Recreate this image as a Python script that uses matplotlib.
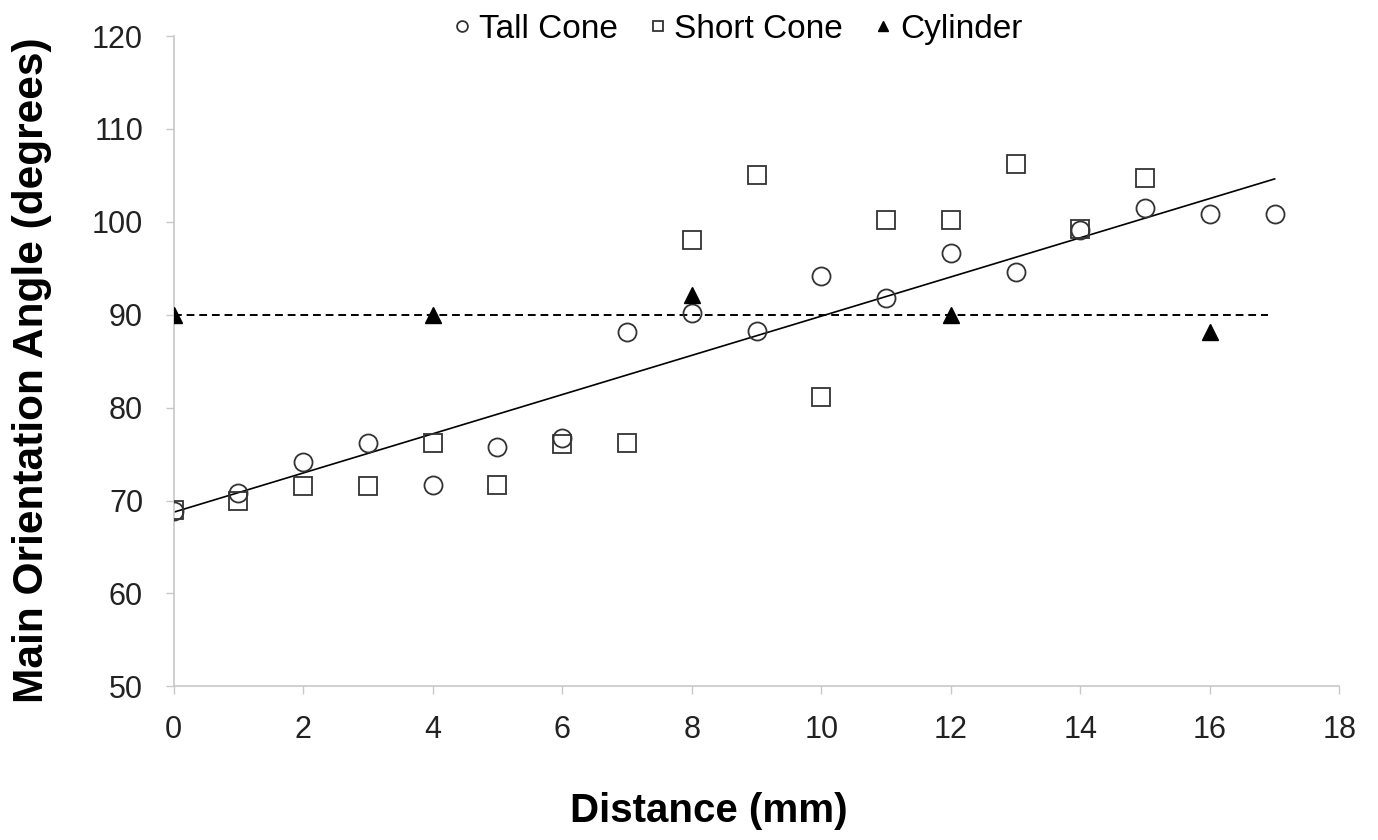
import numpy as np
import matplotlib
matplotlib.use("Agg")
import matplotlib.pyplot as plt

plt.rcParams['font.family'] = ['Liberation Sans', 'DejaVu Sans']

# distance (mm)
tall_x = list(range(0, 18))
tall_y = [68.9, 70.8, 74.1, 76.2, 71.7, 75.8, 76.7, 88.1, 90.2,
          88.3, 94.2, 91.8, 96.6, 94.6, 99.1, 101.5, 100.9, 100.8]

short_x = list(range(0, 16))
short_y = [69.0, 70.0, 71.6, 71.6, 76.2, 71.7, 76.1, 76.2, 98.1,
           105.1, 81.1, 100.2, 100.2, 106.2, 99.2, 104.7]

cyl_x = [0, 4, 8, 12, 16]
cyl_y = [90.0, 90.0, 92.1, 90.0, 88.1]

ref_x = [0, 16.9]
ref_y = [90, 90]

xticks = list(range(0, 20, 2))
yticks = list(range(50, 130, 10))

fig = plt.figure(figsize=(13.78, 8.4), dpi=100)
ax = fig.add_axes([0.126, 0.183, 0.846, 0.774])

# linear trend of the tall cone data
k, b = np.polyfit(tall_x, tall_y, 1)
fx = np.array([min(tall_x), max(tall_x)])
ax.plot(fx, k * fx + b, color='black', lw=1.2, zorder=2)
ax.plot(ref_x, ref_y, color='black', lw=1.4, ls=(0, (4, 2.5)), zorder=2)

ax.plot(tall_x, tall_y, ls='none', marker='o', ms=13, mfc='none',
        mec='#333333', mew=1.3, label='Tall Cone', zorder=3)
ax.plot(short_x, short_y, ls='none', marker='s', ms=13, mfc='none',
        mec='#333333', mew=1.3, label='Short Cone', zorder=3)
ax.plot(cyl_x, cyl_y, ls='none', marker='^', ms=12, mfc='black',
        mec='black', label='Cylinder', zorder=4)

ax.set_xlim(0, 18)
ax.set_ylim(50, 120)
ax.set_xticks(xticks)
ax.set_yticks(yticks)
ax.tick_params(axis='both', labelsize=22, color='#c8c8c8', length=6, width=1,
               labelcolor='#222222')
ax.tick_params(axis='x', pad=15)
ax.tick_params(axis='y', pad=16)

for s in ['top', 'right']:
    ax.spines[s].set_visible(False)
for s in ['left', 'bottom']:
    ax.spines[s].set_color('#c8c8c8')
    ax.spines[s].set_linewidth(1.2)

ax.set_xlabel('Distance (mm)', fontsize=29, fontweight='bold')
ax.set_ylabel('Main Orientation Angle (degrees)', fontsize=30.5, fontweight='bold')
ax.xaxis.set_label_coords(0.459, -0.163)
ax.yaxis.set_label_coords(-0.104, 0.486)

ax.legend(loc='center', bbox_to_anchor=(0.535, 0.965), bbox_transform=fig.transFigure,
          ncol=3, frameon=False, fontsize=24, markerscale=0.6,
          handlelength=0.6, handletextpad=0.2, columnspacing=0.9,
          borderpad=0, borderaxespad=0)

fig.savefig('out.png', dpi=100)
